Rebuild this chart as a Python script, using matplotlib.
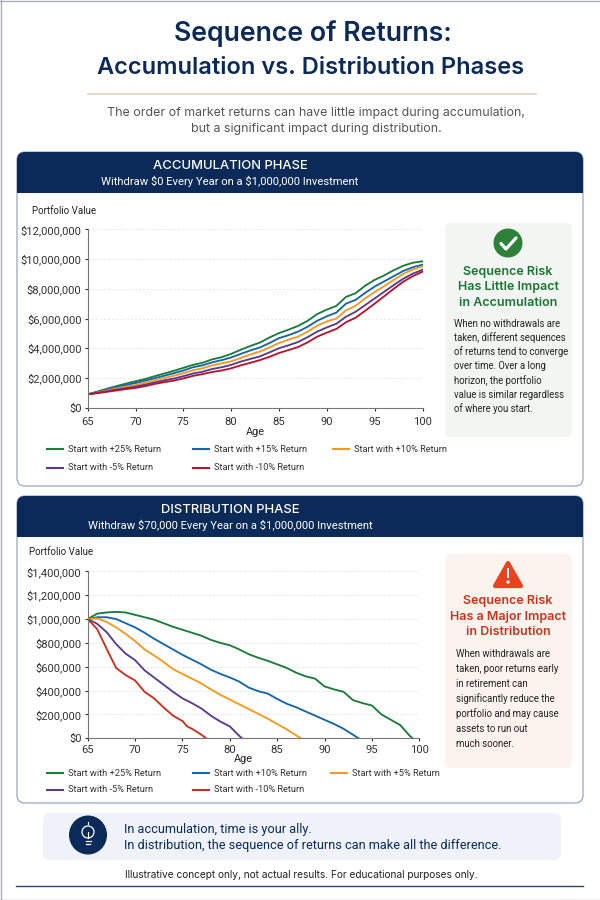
import matplotlib
matplotlib.use("Agg")
import matplotlib.pyplot as plt
from matplotlib.patches import Circle, FancyBboxPatch, Polygon, Rectangle, Ellipse

plt.rcParams["font.family"] = ["Inter", "DejaVu Sans"]
SMALL = ["Roboto", "DejaVu Sans"]

# DADOS
ages = list(range(65, 101))

acc_p25 = [0.90, 1.08, 1.27, 1.45, 1.62, 1.78, 1.93, 2.12, 2.30, 2.48, 2.68, 2.88, 3.02, 3.25, 3.40, 3.62, 3.90, 4.15,
           4.38, 4.72, 5.02, 5.25, 5.50, 5.85, 6.30, 6.60, 6.85, 7.45, 7.70, 8.20, 8.60, 8.90, 9.25, 9.55, 9.75, 9.85]
acc_p15 = [0.90, 1.05, 1.22, 1.38, 1.52, 1.66, 1.82, 1.98, 2.15, 2.32, 2.50, 2.72, 2.85, 3.05, 3.20, 3.38, 3.62, 3.85,
           4.05, 4.35, 4.68, 4.88, 5.12, 5.45, 5.85, 6.15, 6.40, 7.00, 7.25, 7.72, 8.15, 8.50, 8.85, 9.20, 9.45, 9.62]
acc_p10 = [0.90, 1.02, 1.16, 1.30, 1.42, 1.52, 1.68, 1.84, 2.00, 2.15, 2.32, 2.52, 2.65, 2.85, 2.98, 3.12, 3.35, 3.58,
           3.78, 4.05, 4.35, 4.58, 4.78, 5.12, 5.52, 5.80, 6.00, 6.55, 6.85, 7.35, 7.78, 8.18, 8.60, 9.00, 9.30, 9.50]
acc_m5 = [0.90, 1.00, 1.11, 1.22, 1.32, 1.42, 1.55, 1.70, 1.84, 1.96, 2.12, 2.30, 2.42, 2.60, 2.72, 2.88, 3.10, 3.28,
          3.45, 3.72, 4.00, 4.20, 4.42, 4.75, 5.12, 5.40, 5.65, 6.12, 6.45, 6.90, 7.35, 7.80, 8.25, 8.68, 9.02, 9.28]
acc_m10 = [0.90, 0.98, 1.07, 1.16, 1.25, 1.33, 1.45, 1.60, 1.72, 1.82, 1.97, 2.14, 2.26, 2.40, 2.50, 2.65, 2.85, 3.02,
           3.20, 3.42, 3.68, 3.88, 4.08, 4.40, 4.78, 5.05, 5.30, 5.75, 6.05, 6.52, 7.00, 7.50, 8.00, 8.48, 8.85, 9.15]

dist_p25_x = list(range(65, 100)) + [99.3]
dist_p25 = [1000, 1045, 1055, 1060, 1055, 1035, 1015, 995, 965, 935, 910, 885, 860, 825, 800, 780, 745, 705, 675, 650,
            620, 590, 550, 520, 500, 435, 410, 390, 320, 295, 275, 200, 155, 110, 20, 0]
dist_p10_x = list(range(65, 94)) + [93.6]
dist_p10 = [1000, 1015, 1015, 1000, 965, 930, 885, 835, 790, 745, 700, 660, 620, 575, 540, 510, 475, 425, 395, 375,
            330, 290, 260, 225, 190, 155, 120, 80, 30, 0]
dist_p5_x = list(range(65, 88)) + [87.5]
dist_p5 = [1000, 1005, 975, 930, 875, 815, 745, 695, 640, 580, 540, 500, 460, 410, 365, 325, 285, 245, 205, 165,
           120, 75, 25, 0]
dist_m5_x = list(range(65, 82)) + [81.3]
dist_m5 = [1000, 960, 890, 790, 710, 655, 570, 510, 450, 390, 335, 295, 250, 190, 140, 100, 20, 0]
dist_m10_x = list(range(65, 76)) + [75.5, 76, 77, 77.5]
dist_m10 = [1000, 915, 750, 590, 530, 485, 390, 335, 260, 190, 145, 100, 80, 30, 0]

acc_labels = ["Start with +25% Return", "Start with +15% Return", "Start with +10% Return",
              "Start with -5% Return", "Start with -10% Return"]
dist_labels = ["Start with +25% Return", "Start with +10% Return", "Start with +5% Return",
               "Start with -5% Return", "Start with -10% Return"]
acc_yticks = [0, 2, 4, 6, 8, 10, 12]
dist_yticks = [0, 200, 400, 600, 800, 1000, 1200, 1400]
age_ticks = [65, 70, 75, 80, 85, 90, 95, 100]

NAVY = "#0b2a57"
GREEN = "#1c7c3c"
BLUE = "#1666a8"
ORANGE = "#f29a1f"
PURPLE = "#5c3b8f"
RED = "#b3172f"
RED2 = "#c9301f"
EDGE = "#9fb0cc"
TXT = "#222222"

fig = plt.figure(figsize=(6, 9), dpi=100, facecolor="white")

# camada de layout em pixels
bg = fig.add_axes([0, 0, 1, 1])
bg.set_xlim(0, 600)
bg.set_ylim(900, 0)
bg.axis("off")


def rounded(x0, y0, x1, y1, r, fc, ec="none", lw=0, z=1):
    p = FancyBboxPatch((x0 + r, y0 + r), x1 - x0 - 2 * r, y1 - y0 - 2 * r, boxstyle=f"round,pad={r},rounding_size={r}",
                       fc=fc, ec=ec, lw=lw, zorder=z)
    bg.add_patch(p)


def panel(top, head_bot, bot, title, sub):
    rounded(17, top, 583, bot, 8, "white", EDGE, 1.0, 1)
    rounded(17, top, 583, head_bot, 8, NAVY, z=2)
    bg.add_patch(Rectangle((17, top + 15), 566, head_bot - top - 15, fc=NAVY, ec="none", zorder=2))
    bg.text(230, top + 14, title, color="white", fontsize=9.4, fontweight="medium", ha="center", va="center", zorder=3)
    bg.text(230, top + 29, sub, color="white", fontsize=8.1, family=SMALL, ha="center", va="center", zorder=3,
            parse_math=False)


def chart(box, xdata, ydata, colors, yticks, fmt, ymax, xpad):
    left, top, right, bot = box
    ax = fig.add_axes([left / 600, 1 - bot / 900, (right - left) / 600, (bot - top) / 900])
    ax.patch.set_alpha(0)
    for x, y, c in zip(xdata, ydata, colors):
        ax.plot(x, y, color=c, lw=1.35, solid_joinstyle="round")
    ax.set_xlim(65, 100)
    ax.set_ylim(0, ymax)
    ax.set_xticks(age_ticks)
    ax.set_yticks(yticks)
    ax.set_yticklabels([fmt(v) for v in yticks], family=SMALL)
    ax.set_xticklabels(age_ticks, family=SMALL)
    ax.tick_params(labelsize=8.1, colors="#333333", length=2.5, width=0.8)
    ax.tick_params(axis="y", pad=2)
    ax.tick_params(axis="x", pad=xpad)
    ax.grid(axis="y", color="#e3e6ea", lw=0.7, ls=(0, (2, 2)))
    ax.set_axisbelow(True)
    ax.spines["top"].set_visible(False)
    ax.spines["right"].set_visible(False)
    ax.spines["left"].set_color("#777777")
    ax.spines["bottom"].set_color("#777777")
    return ax


def chart_legend(labels, colors, rows, col3_x):
    # legenda desenhada à mão para alinhar as colunas como no original
    spots = [(47, rows[0]), (193, rows[0]), (col3_x, rows[0]), (47, rows[1]), (193, rows[1])]
    for (x, y), lab, c in zip(spots, labels, colors):
        bg.plot([x, x + 15.5], [y, y], color=c, lw=1.5, zorder=3)
        bg.text(x + 21, y, lab, color="#333333", fontsize=6.7, family=SMALL, va="center", zorder=3)


# moldura da imagem
for xs, ys in [((0.5, 0.5), (0, 900)), ((0, 600), (0.5, 0.5)), ((0, 600), (899.5, 899.5))]:
    bg.plot(xs, ys, color="#a9adc0", lw=1)

# cabeçalho
bg.text(313, 34, "Sequence of Returns:", color=NAVY, fontsize=19.2, fontweight="semibold", ha="center", va="center")
bg.text(311, 68, "Accumulation vs. Distribution Phases", color=NAVY, fontsize=17, fontweight="semibold",
        ha="center", va="center")
bg.plot([88, 536], [94, 94], color="#e6d8c0", lw=1.3)
bg.text(316, 113, "The order of market returns can have little impact during accumulation,", color="#555555",
        fontsize=8.95, ha="center", va="center")
bg.text(316, 129, "but a significant impact during distribution.", color="#555555", fontsize=8.95, ha="center",
        va="center")

# painéis
panel(152, 193, 486, "ACCUMULATION PHASE", "Withdraw $0 Every Year on a $1,000,000 Investment")
panel(496, 537, 803, "DISTRIBUTION PHASE", "Withdraw $70,000 Every Year on a $1,000,000 Investment")

# gráfico acumulação
acc_colors = [GREEN, BLUE, ORANGE, PURPLE, RED]
ax1 = chart((87.7, 229.3, 422.5, 407.7), [ages] * 5, [acc_p25, acc_p15, acc_p10, acc_m5, acc_m10],
            acc_colors, acc_yticks, lambda v: f"${v * 1000000:,.0f}", 12, 4.5)
chart_legend(acc_labels, acc_colors, (449, 468), 333)
bg.text(32, 211, "Portfolio Value", fontsize=7, family=SMALL, color=TXT, va="center")
bg.text(255, 432, "Age", fontsize=7.8, family=SMALL, color=TXT, ha="center", va="center")

# gráfico distribuição
dist_colors = [GREEN, BLUE, ORANGE, PURPLE, RED2]
ax2 = chart((87.7, 571.3, 419.3, 738.3), [dist_p25_x, dist_p10_x, dist_p5_x, dist_m5_x, dist_m10_x],
            [dist_p25, dist_p10, dist_p5, dist_m5, dist_m10], dist_colors, dist_yticks,
            lambda v: f"${v * 1000:,.0f}", 1400, 2.5)
chart_legend(dist_labels, dist_colors, (773, 790), 331)
bg.text(29, 552, "Portfolio Value", fontsize=7, family=SMALL, color=TXT, va="center")
bg.text(243, 759, "Age", fontsize=7.8, family=SMALL, color=TXT, ha="center", va="center")

# cartão verde
rounded(445, 223, 572, 437, 6, "#f2f5f1", z=2)
bg.add_patch(Circle((508, 243), 14.5, fc="#2f8139", ec="none", zorder=3))
bg.plot([501, 506, 516], [243.5, 249, 238], color="white", lw=2.3, solid_capstyle="round", solid_joinstyle="round",
        zorder=4)
for y, s in zip([271.5, 287, 303], ["Sequence Risk", "Has Little Impact", "in Accumulation"]):
    bg.text(508, y, s, color="#1c7434", fontsize=9.0, fontweight="semibold", ha="center", va="center", zorder=3)
green_body = ["When no withdrawals are", "taken, different sequences", "of returns tend to converge", "over time. Over a long",
              "horizon, the portfolio", "value is similar regardless", "of where you start."]
for y, s in zip([324, 338, 352, 366, 381, 395, 409], green_body):
    bg.text(454, y, s, color=TXT, fontsize=6.85, family=SMALL, va="center", zorder=3)

# cartão vermelho
rounded(445, 554, 572, 768, 6, "#fcf3ef", z=2)
bg.add_patch(Polygon([(508, 563), (521, 586), (495, 586)], closed=True, fc="#e8431f", ec="#e8431f", lw=3,
                     joinstyle="round", zorder=3))
bg.add_patch(Rectangle((506.7, 568), 2.6, 10, fc="white", ec="none", zorder=4))
bg.add_patch(Circle((508, 582), 1.7, fc="white", ec="none", zorder=4))
for y, s in zip([601, 617, 632], ["Sequence Risk", "Has a Major Impact", "in Distribution"]):
    bg.text(508, y, s, color="#c9351c", fontsize=9.0, fontweight="semibold", ha="center", va="center", zorder=3)
red_body = ["When withdrawals are", "taken, poor returns early", "in retirement can", "significantly reduce the",
            "portfolio and may cause", "assets to run out", "much sooner."]
for y, s in zip([654, 669, 684, 699, 714, 729, 744], red_body):
    bg.text(456, y, s, color=TXT, fontsize=6.9, family=SMALL, va="center", zorder=3)

# faixa inferior
rounded(43, 813, 561, 860, 7, "#eff3f9", z=2)
bg.add_patch(Ellipse((88, 835), 38, 39, fc=NAVY, ec="none", zorder=3))
bg.add_patch(Circle((88, 832), 6, fc="none", ec="white", lw=0.9, zorder=4))
bg.plot([85.5, 90.5], [841, 841], color="white", lw=0.9, zorder=4)
bg.plot([86, 90], [844, 844], color="white", lw=0.9, zorder=4)
bg.plot([88, 88], [832, 838], color="white", lw=0.8, zorder=4)
bg.plot([88, 88], [822, 824], color="white", lw=0.8, zorder=4)
bg.text(124, 829, "In accumulation, time is your ally.", color=NAVY, fontsize=9.2, family=SMALL, va="center", zorder=3)
bg.text(124, 845.5, "In distribution, the sequence of returns can make all the difference.", color=NAVY, fontsize=9.2,
        family=SMALL, va="center", zorder=3)
bg.text(301, 875, "Illustrative concept only, not actual results. For educational purposes only.", color=TXT,
        fontsize=7.3, ha="center", va="center")
bg.plot([16, 583], [886, 886], color="#2c4668", lw=1)

fig.savefig("out.png", dpi=100)
